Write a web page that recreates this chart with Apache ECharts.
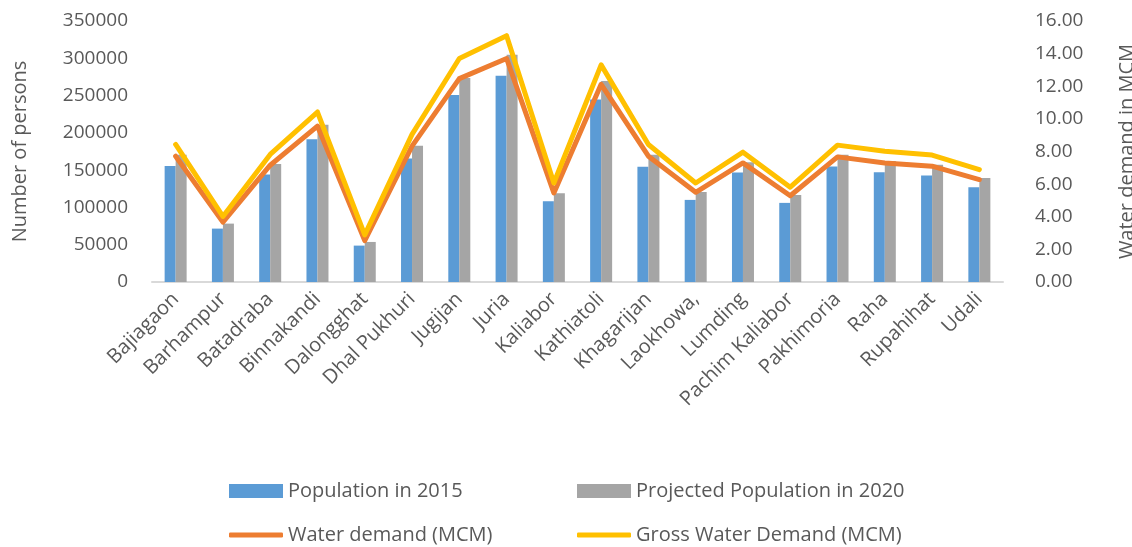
<!DOCTYPE html>
<html><head><meta charset="utf-8">
<script src="https://cdn.jsdelivr.net/npm/echarts@6/dist/echarts.min.js"></script>
<style>html,body{margin:0;padding:0;background:#fff}#c{width:1132px;height:547px}</style>
</head><body><div id="c"></div>
<script>
const categories = ['Bajiagaon','Barhampur','Batadraba','Binnakandi','Dalongghat','Dhal Pukhuri','Jugijan','Juria','Kaliabor','Kathiatoli','Khagarijan','Laokhowa,','Lumding','Pachim Kaliabor','Pakhimoria','Raha','Rupahihat','Udali'];
const pop2015 = [155700,71600,144000,191500,48800,165600,250600,276600,108300,244800,154400,110100,146800,106100,154800,147200,142700,127100];
const pop2020 = [170500,78300,158400,210800,53700,182600,273400,304700,119000,269400,170500,120800,160700,116800,170500,162400,157100,139600];
const waterDemand = [7.71,3.67,7.16,9.56,2.54,8.33,12.47,13.70,5.46,12.12,7.71,5.50,7.30,5.29,7.67,7.30,7.10,6.28];
const grossDemand = [8.43,4.02,7.82,10.42,2.89,9.05,13.70,15.10,6.07,13.31,8.43,6.07,7.96,5.81,8.39,8.02,7.78,6.89];
const leftTicks = {min:0, max:350000, interval:50000};
const rightTicks = {min:0, max:16, interval:2};

const FONT = 'Open Sans';
const TXT = '#595959';
const chart = echarts.init(document.getElementById('c'));
function leg(name, left, top, icon){
  return {data:[{name:name, icon:icon}], left:left, top:top, padding:0, itemWidth:54, itemHeight: icon==='rect'?14:5, itemGap:0,
    textStyle:{fontFamily:FONT, fontSize:20, color:TXT}, selectedMode:false};
}
chart.setOption({
  animation:false,
  textStyle:{fontFamily:FONT},
  grid:{left:152, right:129, top:21, bottom:265, containLabel:false, outerBoundsMode:'none'},
  legend:[
    leg('Population in 2015',229,481,'rect'),
    leg('Projected Population in 2020',577,481,'rect'),
    leg('Water demand (MCM)',229,525,'roundRect'),
    leg('Gross Water Demand (MCM)',577,525,'roundRect')
  ],
  xAxis:{type:'category', data:categories,
    axisLine:{show:true, lineStyle:{color:'#D9D9D9', width:2}},
    axisTick:{show:false},
    axisLabel:{rotate:45, interval:0, fontSize:20, color:TXT, fontFamily:FONT, margin:14}},
  yAxis:[
    {type:'value', min:leftTicks.min, max:leftTicks.max, interval:leftTicks.interval,
     name:'Number of persons', nameLocation:'middle', nameGap:122, nameRotate:90,
     nameTextStyle:{fontSize:20, color:TXT, fontFamily:FONT},
     splitLine:{show:false}, axisLine:{show:false}, axisTick:{show:false},
     axisLabel:{fontSize:19, color:TXT, fontFamily:FONT, margin:24, formatter:v=>String(v)}},
    {type:'value', min:rightTicks.min, max:rightTicks.max, interval:rightTicks.interval,
     name:'Water demand in MCM', nameLocation:'middle', nameGap:114, nameRotate:90,
     nameTextStyle:{fontSize:20, color:TXT, fontFamily:FONT},
     splitLine:{show:false}, axisLine:{show:false}, axisTick:{show:false},
     axisLabel:{fontSize:19, color:TXT, fontFamily:FONT, margin:32, formatter:v=>v.toFixed(2)}}
  ],
  series:[
    {name:'Population in 2015', type:'bar', data:pop2015, barWidth:11, barGap:'0%', itemStyle:{color:'#5B9BD5'}},
    {name:'Projected Population in 2020', type:'bar', data:pop2020, barWidth:11, itemStyle:{color:'#A5A5A5'}},
    {name:'Water demand (MCM)', type:'line', yAxisIndex:1, data:waterDemand, symbol:'none', lineStyle:{color:'#ED7D31', width:5, cap:'round', join:'round'}, itemStyle:{color:'#ED7D31'}},
    {name:'Gross Water Demand (MCM)', type:'line', yAxisIndex:1, data:grossDemand, symbol:'none', lineStyle:{color:'#FFC000', width:5, cap:'round', join:'round'}, itemStyle:{color:'#FFC000'}}
  ]
});
</script></body></html>
